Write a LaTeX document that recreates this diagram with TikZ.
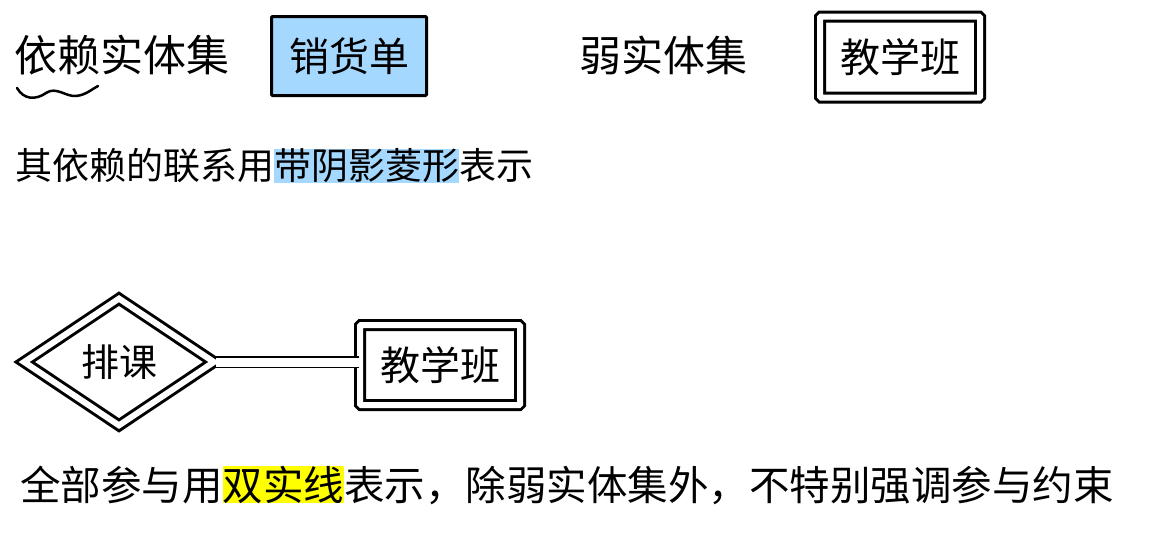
\documentclass[tikz,border=0pt]{standalone}
\usepackage{fontspec}
\newfontfamily\cjk{Noto Sans CJK SC}
\usetikzlibrary{shapes.geometric}
\definecolor{hlblue}{HTML}{A5D8FF}
\definecolor{hlyellow}{HTML}{FFFF00}
\newcommand{\hl}[2]{{\setlength{\fboxsep}{0pt}\colorbox{#1}{#2}}}
\begin{document}
\begin{tikzpicture}[x=1pt,y=-1pt,
  txt/.style={inner sep=0pt, font=\cjk\fontsize{#1}{#1}\selectfont},
  txt/.default=40,
  entbox/.style={draw=black, line width=3pt, rounded corners=1pt, inner sep=0pt,
    minimum width=155pt, minimum height=79pt},
  weakbox/.style={draw=black, line width=3pt, double=white, double distance=6pt,
    rounded corners=1pt, inner sep=0pt, minimum width=160pt, minimum height=81pt},
  weakrel/.style={draw=black, shape=diamond, line width=3pt, double=white, double distance=6pt,
    inner sep=0pt, minimum width=191pt, minimum height=128pt},
  dblline/.style={draw=black, line width=1.8pt, double=white, double distance=9pt}
]
\useasboundingbox (0,0) rectangle (1149,539);

% row 1
\node[txt=43] (t1) at (122,55) {依赖实体集};
\draw[line width=2.5pt, line cap=round]
  (17,88) .. controls (24,100) and (36,100) .. (46,93)
  .. controls (56,86) and (66,97) .. (76,96)
  .. controls (86,95) and (92,89) .. (98,86);
\node[entbox, fill=hlblue, txt=40] (sales) at (349,56) {销货单};

\node[txt=42] (t2) at (663,55) {弱实体集};
\node[weakbox, txt=40] (class1) at (900,57) {教学班};

% row 2
\node[txt=37, anchor=west] (t3) at (15,166)
  {其依赖的联系用\hl{hlblue}{带阴影菱形}表示};

% diagram
\node[weakrel, txt=38] (rel) at (119,362) {排课};
\node[weakbox, minimum height=80pt, txt=40] (class2) at (440,365) {教学班};
\draw[dblline] (rel.east) -- (rel.east -| class2.west);

% bottom text
\node[txt=40.5, anchor=west] (t4) at (20,485)
  {全部参与用\hl{hlyellow}{双实线}表示，除弱实体集外，不特别强调参与约束};
\end{tikzpicture}
\end{document}
